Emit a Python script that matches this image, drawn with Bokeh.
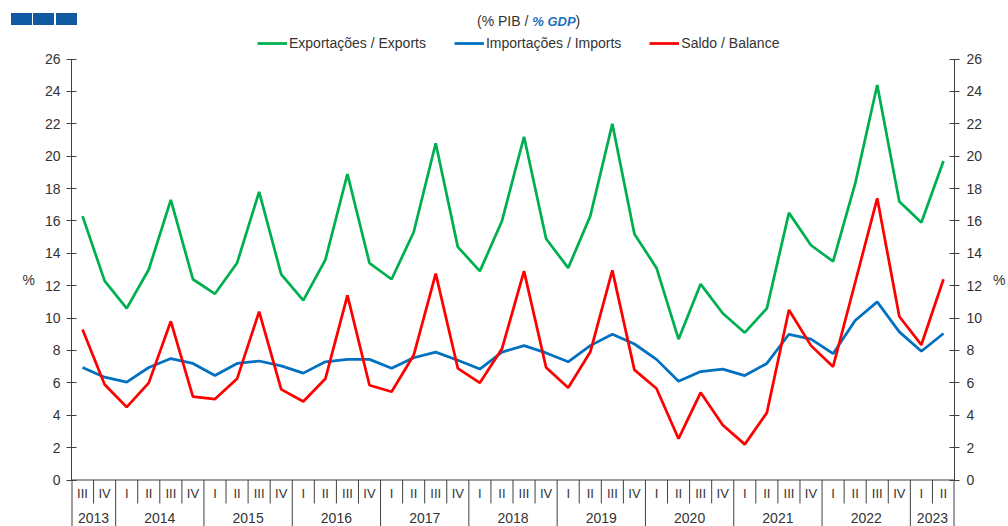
from bokeh.plotting import figure
from bokeh.layouts import column
from bokeh.models import (Range1d, LinearAxis, FixedTicker, Legend, LegendItem,
                          Span, Div)
from bokeh.core.properties import value
from bokeh.embed import file_html
from bokeh.resources import INLINE

# ---------------- data ----------------
quarter_labels = ["III", "IV",
                  "I", "II", "III", "IV",
                  "I", "II", "III", "IV",
                  "I", "II", "III", "IV",
                  "I", "II", "III", "IV",
                  "I", "II", "III", "IV",
                  "I", "II", "III", "IV",
                  "I", "II", "III", "IV",
                  "I", "II", "III", "IV",
                  "I", "II", "III", "IV",
                  "I", "II"]
year_labels = ["2013", "2014", "2015", "2016", "2017", "2018",
               "2019", "2020", "2021", "2022", "2023"]
quarters_per_year = [2, 4, 4, 4, 4, 4, 4, 4, 4, 4, 2]

exports = [16.3, 12.3, 10.6, 13.0, 17.3, 12.4, 11.5, 13.4, 17.8, 12.7,
           11.1, 13.6, 18.9, 13.4, 12.4, 15.3, 20.8, 14.4, 12.9, 16.0,
           21.2, 14.9, 13.1, 16.3, 22.0, 15.2, 13.1, 8.7, 12.1, 10.3,
           9.1, 10.6, 16.5, 14.5, 13.5, 18.3, 24.4, 17.2, 15.9, 19.7]
imports = [6.95, 6.35, 6.05, 6.95, 7.5, 7.2, 6.45, 7.2, 7.35, 7.05,
           6.6, 7.3, 7.45, 7.45, 6.9, 7.55, 7.9, 7.4, 6.85, 7.9,
           8.3, 7.85, 7.3, 8.3, 9.0, 8.4, 7.45, 6.1, 6.7, 6.85,
           6.45, 7.2, 9.0, 8.7, 7.8, 9.85, 11.0, 9.15, 7.95, 9.05]
balance = [9.3, 5.9, 4.5, 6.0, 9.8, 5.15, 5.0, 6.25, 10.4, 5.6,
           4.85, 6.25, 11.4, 5.85, 5.45, 7.7, 12.75, 6.9, 6.0, 8.1,
           12.9, 6.95, 5.7, 7.9, 12.95, 6.8, 5.65, 2.55, 5.4, 3.4,
           2.2, 4.15, 10.5, 8.3, 7.0, 12.2, 17.4, 10.1, 8.35, 12.4]

series_names = ["Exportações / Exports", "Importações / Imports", "Saldo / Balance"]
series_colors = ["#00B050", "#0070C0", "#FF0000"]
y_ticks = [0, 2, 4, 6, 8, 10, 12, 14, 16, 18, 20, 22, 24, 26]

# ---------------- styles ----------------
FONT = "Liberation Sans"
TXT = "#333333"
AX = "#404040"
BRAND = "#0F5AA3"
W = 1008
HEAD_H = 32

# ---------------- header strip (logo blocks + subtitle) ----------------
blocks = "".join(
    f'<div style="position:absolute;left:{l}px;top:13px;width:{w}px;height:12px;'
    f'background:{BRAND};"></div>'
    for l, w in [(11, 21), (33, 21), (56, 21)])
subtitle = (
    f'<div style="position:absolute;left:477px;top:13px;line-height:16px;white-space:nowrap;'
    f'font-family:\'{FONT}\';font-size:14px;color:{TXT};">(% PIB / '
    f'<span style="font-size:13px;font-weight:bold;font-style:italic;color:#1F6FB8;">% GDP</span>)</div>')
head = Div(text=f'<div style="position:relative;width:{W}px;height:{HEAD_H}px;">'
                + blocks + subtitle + '</div>',
           width=W, height=HEAD_H, margin=0)

# ---------------- main chart ----------------
n = len(quarter_labels)
x = list(range(n))
Y_MIN, Y_MAX = -2.872, 27.64

p = figure(width=W, height=526 - HEAD_H, output_backend="svg", toolbar_location=None,
           title=None, x_range=Range1d(-0.5, n - 0.5), y_range=Range1d(Y_MIN, Y_MAX),
           x_axis_location=None, y_axis_location=None,
           min_border_left=71, min_border_right=49, min_border_top=0, min_border_bottom=0)
p.outline_line_color = None
p.grid.grid_line_color = None
p.background_fill_color = "white"
p.border_fill_color = "white"

ticker = FixedTicker(ticks=y_ticks, minor_ticks=[])


def make_axis(standoff, label_standoff):
    ax = LinearAxis(ticker=ticker, bounds=(0, 26), axis_label="%",
                    axis_label_orientation="horizontal")
    ax.axis_line_color = AX
    ax.major_tick_line_color = AX
    ax.major_tick_in = 5
    ax.major_tick_out = 5
    ax.minor_tick_line_color = None
    ax.major_label_standoff = standoff
    ax.major_label_text_font = FONT
    ax.major_label_text_font_size = "14px"
    ax.major_label_text_color = TXT
    ax.axis_label_standoff = label_standoff
    ax.axis_label_text_font = FONT
    ax.axis_label_text_font_size = "14px"
    ax.axis_label_text_font_style = "normal"
    ax.axis_label_text_color = TXT
    return ax


p.add_layout(make_axis(6, 7), "left")
p.add_layout(make_axis(7, 8), "right")

# x axis line
p.add_layout(Span(location=0, dimension="width", line_color=AX, line_width=1))

# category separators below the axis
q_sep_len = -1.45
year_bounds = []
acc = 0
for c in quarters_per_year:
    acc += c
    year_bounds.append(acc)
q_x = [i - 0.5 for i in range(1, n) if i not in year_bounds]
y_x = [b - 0.5 for b in year_bounds[:-1]]
p.segment(x0=q_x, y0=[0] * len(q_x), x1=q_x, y1=[q_sep_len] * len(q_x),
          line_color=AX, line_width=1)
p.segment(x0=y_x, y0=[0] * len(y_x), x1=y_x, y1=[Y_MIN] * len(y_x),
          line_color=AX, line_width=1)
edges = [-0.5, n - 0.5]
p.segment(x0=edges, y0=[0, 0], x1=edges, y1=[Y_MIN, Y_MIN],
          line_color=AX, line_width=2)

# quarter labels and year labels
p.text(x=x, y=[0] * n, text=quarter_labels, y_offset=13.5,
       text_align="center", text_baseline="middle",
       text_font=value(FONT), text_font_size="13px", text_color=TXT)
year_centers = []
start = 0
for c in quarters_per_year:
    year_centers.append(start + (c - 1) / 2)
    start += c
p.text(x=year_centers, y=[0] * len(year_centers), text=year_labels, y_offset=37.5,
       text_align="center", text_baseline="middle",
       text_font=value(FONT), text_font_size="14px", text_color=TXT)

# series lines
renderers = []
for vals, col in zip([exports, imports, balance], series_colors):
    r = p.line(x=x, y=vals, line_color=col, line_width=2.75)
    renderers.append(r)

legend = Legend(items=[LegendItem(label=nm, renderers=[r])
                       for nm, r in zip(series_names, renderers)],
                orientation="horizontal", location=(186, 475),
                padding=0, margin=0, spacing=28, glyph_width=30, glyph_height=16,
                label_height=16, label_standoff=2,
                label_text_font=FONT, label_text_font_size="14px",
                label_text_color=TXT, border_line_color=None,
                background_fill_alpha=0)
p.add_layout(legend)

layout = column(head, p, spacing=0)
open("out.html", "w").write(file_html(layout, INLINE))
